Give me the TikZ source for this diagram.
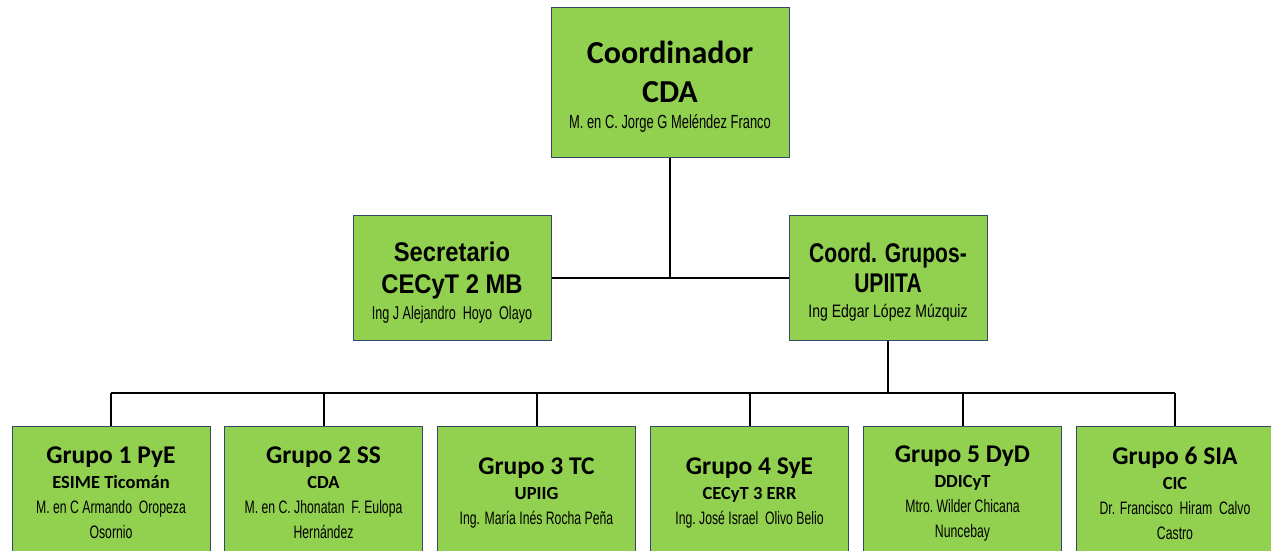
\documentclass[tikz,border=0pt]{standalone}
\usepackage{fontspec}
\setmainfont{Carlito}
\newfontfamily\secfont{Liberation Sans}[FakeStretch=0.88]
\newfontfamily\arialfont{Liberation Sans}[FakeStretch=0.78]
\newfontfamily\agency{Liberation Sans}[FakeStretch=0.68]
\definecolor{boxgreen}{HTML}{92D050}
\definecolor{boxborder}{HTML}{34486A}
\tikzset{
  orgbox/.style={draw=boxborder, fill=boxgreen, line width=1pt, inner sep=0pt, align=center},
  topbox/.style={orgbox, minimum width=238pt, minimum height=150pt},
  midbox/.style={orgbox, minimum width=198pt, minimum height=125pt},
  grpbox/.style={orgbox, minimum width=198pt, minimum height=134pt, font=\fontsize{16.5}{25}\selectfont},
  link/.style={draw=black, line width=2pt}
}
\newcommand{\gtitle}[1]{{\fontsize{25.5}{25}\selectfont\bfseries #1}}
\newcommand{\gsub}[1]{{\fontsize{18.5}{25}\selectfont\bfseries #1}}
\newcommand{\gname}[1]{{\agency\fontsize{18}{25}\selectfont #1}}
\begin{document}
\begin{tikzpicture}[x=1pt,y=-1pt]
\useasboundingbox (0,0) rectangle (1271,550);
% boxes
\node[topbox, font=\fontsize{16}{26}\selectfont] (coordinador) at (670,82)
  {\rule{0pt}{32pt}{\fontsize{32}{32}\selectfont\bfseries Coordinador}\\[13pt]
   {\fontsize{32}{32}\selectfont\bfseries CDA}\\
   {\agency\fontsize{19}{26}\selectfont M. en C. Jorge G Meléndez Franco}};
\node[midbox, font=\fontsize{16}{26}\selectfont] (secretario) at (452,277.5)
  {\rule{0pt}{30pt}{\secfont\fontsize{27}{27}\selectfont\bfseries Secretario}\\[6pt]
   {\secfont\fontsize{27}{27}\selectfont\bfseries CECyT 2 MB}\\
   {\agency\fontsize{18.5}{26}\selectfont Ing J Alejandro\ \ Hoyo\ \ Olayo}};
\node[midbox, font=\fontsize{16}{25}\selectfont] (coordgrupos) at (888,277.5)
  {\rule{0pt}{28pt}{\arialfont\fontsize{27}{27}\selectfont\bfseries Coord. Grupos-}\\[5pt]
   {\arialfont\fontsize{27}{27}\selectfont\bfseries UPIITA}\\
   {\arialfont\fontsize{18}{25}\selectfont Ing Edgar López Múzquiz}};
\node[grpbox] (g1) at (111,493)
  {\gtitle{Grupo 1 PyE}\\ \gsub{ESIME Ticomán}\\ \gname{M. en C Armando\ \ Oropeza}\\ \gname{Osornio}};
\node[grpbox] (g2) at (323.5,493)
  {\gtitle{Grupo 2 SS}\\ \gsub{CDA}\\ \gname{M. en C.\ Jhonatan\ \ F.\ Eulopa}\\ \gname{Hernández}};
\node[grpbox] (g3) at (536.5,493)
  {\gtitle{Grupo 3 TC}\\ \gsub{UPIIG}\\ \gname{Ing. María Inés Rocha Peña}};
\node[grpbox] (g4) at (749.5,493)
  {\gtitle{Grupo 4 SyE}\\ \gsub{CECyT 3 ERR}\\ \gname{Ing.\ José Israel\ \ Olivo Belio}};
\node[grpbox] (g5) at (962.5,493)
  {\gtitle{Grupo 5 DyD}\\ \gsub{DDICyT}\\ \gname{Mtro.\ Wilder Chicana}\\ \gname{Nuncebay}};
\node[grpbox] (g6) at (1175,493)
  {\gtitle{Grupo 6 SIA}\\ \gsub{CIC}\\ \gname{Dr. Francisco\ \ Hiram\ \ Calvo}\\ \gname{Castro}};
% connectors
\coordinate (bus) at (0,393);
\draw[link] (coordinador.south) -- (coordinador.south |- secretario.east);
\draw[link] (secretario.east) -- (coordgrupos.west);
\draw[link] (coordgrupos.south) -- (coordgrupos.south |- bus);
\draw[link] (g1.north |- bus) -- (g6.north |- bus);
\foreach \g in {g1,g2,g3,g4,g5,g6}
  \draw[link] (\g.north |- bus) -- (\g.north);
\end{tikzpicture}
\end{document}
